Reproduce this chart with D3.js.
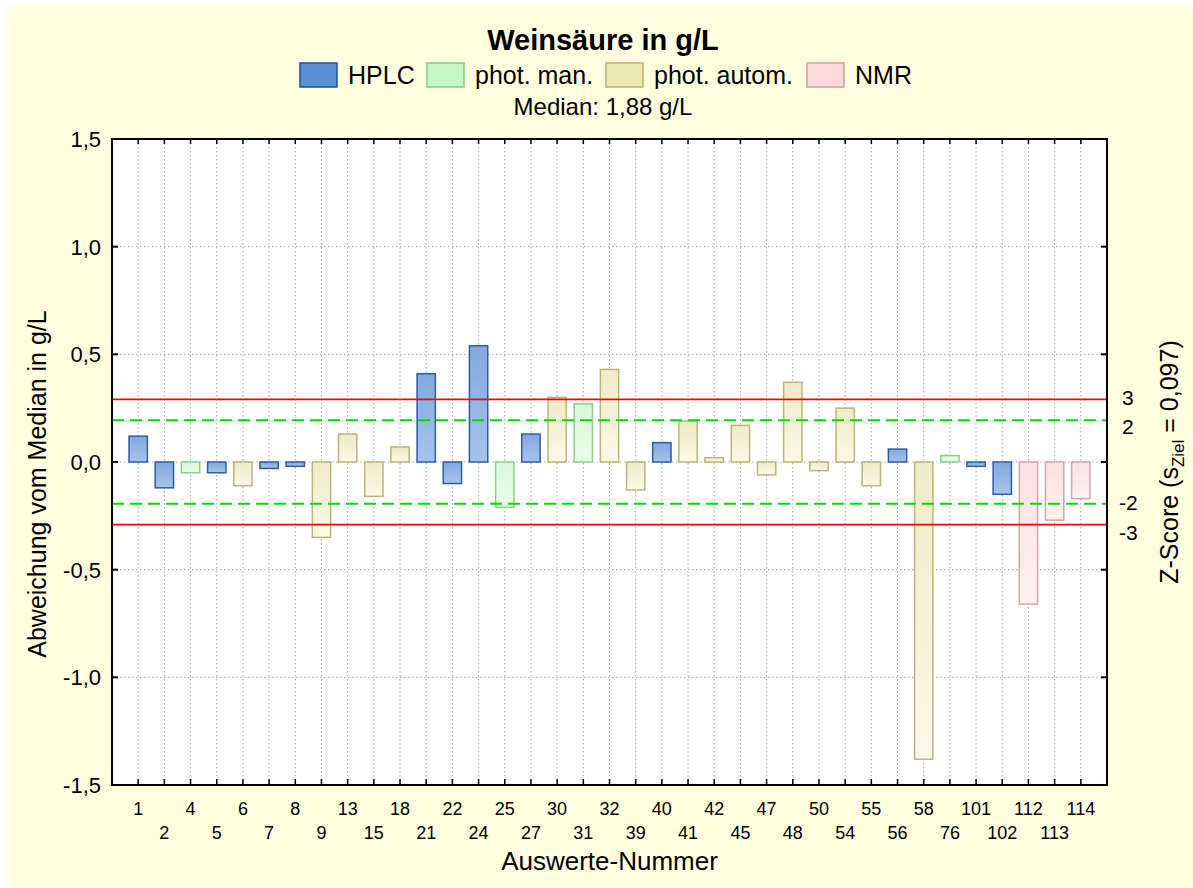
<!DOCTYPE html>
<html>
<head>
<meta charset="utf-8">
<script src="https://cdn.jsdelivr.net/npm/d3@7"></script>
<style>
  body { margin: 0; background: #fff; }
  svg text { font-family: Arial, "Liberation Sans", sans-serif; fill: #000; }
</style>
</head>
<body>
<div id="chart"></div>
<script>
// Auswerte-Nummern (x categories)
const labNumbers = ["1", "2", "4", "5", "6", "7", "8", "9", "13", "15", "18", "21", "22", "24", "25", "27",
    "30", "31", "32", "39", "40", "41", "42", "45", "47", "48", "50", "54", "55", "56", "58", "76",
    "101", "102", "112", "113", "114"];

// method of each lab
const labMethods = ["HPLC", "HPLC", "phot. man.", "HPLC", "phot. autom.", "HPLC", "HPLC", "phot. autom.",
    "phot. autom.", "phot. autom.", "phot. autom.", "HPLC", "HPLC", "HPLC", "phot. man.", "HPLC",
    "phot. autom.", "phot. man.", "phot. autom.", "phot. autom.", "HPLC", "phot. autom.", "phot. autom.", "phot. autom.",
    "phot. autom.", "phot. autom.", "phot. autom.", "phot. autom.", "phot. autom.", "HPLC", "phot. autom.", "phot. man.",
    "HPLC", "HPLC", "NMR", "NMR", "NMR"];

// deviation from median in g/L
const deviations = [0.12, -0.12, -0.05, -0.05, -0.11, -0.03, -0.02, -0.35, 0.13, -0.16, 0.07, 0.41, -0.10, 0.54, -0.21, 0.13,
    0.30, 0.27, 0.43, -0.13, 0.09, 0.19, 0.02, 0.17, -0.06, 0.37, -0.04, 0.25, -0.11, 0.06, -1.38, 0.03,
    -0.02, -0.15, -0.66, -0.27, -0.17];

const methodNames = ["HPLC", "phot. man.", "phot. autom.", "NMR"];
const yTicks = [-1.5, -1.0, -0.5, 0.0, 0.5, 1.0, 1.5];
const zScores = [3, 2, -2, -3];
const medianValue = 1.88;
const sZiel = 0.097;

// colours per method: legend swatch, bar gradient top/bottom, stroke
const methodStyle = {
    "HPLC":         { swatch: "#5b8fd6", swStroke: "#1f4f9c", top: "#82a8de", bottom: "#a8c3ea", stroke: "#2c5ea8" },
    "phot. man.":   { swatch: "#c6f7c8", swStroke: "#86c98a", top: "#d9f8d9", bottom: "#ebfcea", stroke: "#8ccf8c" },
    "phot. autom.": { swatch: "#ede7b2", swStroke: "#b9b06e", top: "#f0ebc6", bottom: "#faf8e8", stroke: "#bcb47a" },
    "NMR":          { swatch: "#ffd9da", swStroke: "#cfa0a0", top: "#fce1e1", bottom: "#fff1f1", stroke: "#d4a6a6" }
};

const width = 1193, height = 888;
const plot = { left: 112, right: 1107, top: 139, bottom: 785 };

const svg = d3.select("#chart").append("svg")
    .attr("width", width)
    .attr("height", height);

// background
svg.append("rect")
    .attr("x", 7).attr("y", 6)
    .attr("width", width - 7).attr("height", height - 6)
    .attr("fill", "#ffffe0");

const defs = svg.append("defs");
methodNames.forEach((m, i) => {
    const g = defs.append("linearGradient")
        .attr("id", "grad" + i)
        .attr("x1", 0).attr("y1", 0).attr("x2", 0).attr("y2", 1);
    g.append("stop").attr("offset", "0%").attr("stop-color", methodStyle[m].top);
    g.append("stop").attr("offset", "100%").attr("stop-color", methodStyle[m].bottom);
});

// plot area
svg.append("rect")
    .attr("x", plot.left).attr("y", plot.top)
    .attr("width", plot.right - plot.left).attr("height", plot.bottom - plot.top)
    .attr("fill", "#ffffff");

// scales
const x = d3.scalePoint()
    .domain(labNumbers)
    .range([plot.left, plot.right])
    .padding(1);

const y = d3.scaleLinear()
    .domain([-1.5, 1.5])
    .range([plot.bottom, plot.top]);

const barWidth = x.step() * 0.7;

// grid lines
svg.append("g")
    .selectAll("line")
    .data(labNumbers)
    .join("line")
    .attr("x1", d => x(d)).attr("x2", d => x(d))
    .attr("y1", plot.top).attr("y2", plot.bottom)
    .attr("stroke", "#a8a8a8")
    .attr("stroke-width", 1)
    .attr("stroke-dasharray", "1.5,2.5");

svg.append("g")
    .selectAll("line")
    .data(yTicks.slice(1, -1))
    .join("line")
    .attr("x1", plot.left).attr("x2", plot.right)
    .attr("y1", d => y(d)).attr("y2", d => y(d))
    .attr("stroke", "#a8a8a8")
    .attr("stroke-width", 1)
    .attr("stroke-dasharray", "1.5,2.5");

// bars
const barData = labNumbers.map((n, i) => ({ n, method: labMethods[i], value: deviations[i] }));

svg.append("g")
    .selectAll("rect")
    .data(barData)
    .join("rect")
    .attr("x", d => x(d.n) - barWidth / 2)
    .attr("y", d => y(Math.max(0, d.value)))
    .attr("width", barWidth)
    .attr("height", d => Math.abs(y(d.value) - y(0)))
    .attr("fill", d => `url(#grad${methodNames.indexOf(d.method)})`)
    .attr("stroke", d => methodStyle[d.method].stroke)
    .attr("stroke-width", 1.5);

// z-score limit lines
svg.append("g")
    .selectAll("line")
    .data(zScores)
    .join("line")
    .attr("x1", plot.left).attr("x2", plot.right)
    .attr("y1", d => y(d * sZiel)).attr("y2", d => y(d * sZiel))
    .attr("stroke", d => Math.abs(d) === 3 ? "#ff0000" : "#00dd00")
    .attr("stroke-width", d => Math.abs(d) === 3 ? 1.6 : 2)
    .attr("stroke-dasharray", d => Math.abs(d) === 3 ? null : "12,6");

// frame and inward ticks
const axisG = svg.append("g");
axisG.append("rect")
    .attr("x", plot.left).attr("y", plot.top)
    .attr("width", plot.right - plot.left).attr("height", plot.bottom - plot.top)
    .attr("fill", "none")
    .attr("stroke", "#000")
    .attr("stroke-width", 2);

axisG.selectAll(".ytick")
    .data(yTicks)
    .join("g")
    .each(function (d) {
        const g = d3.select(this);
        g.append("line").attr("x1", plot.left).attr("x2", plot.left + 6)
            .attr("y1", y(d)).attr("y2", y(d)).attr("stroke", "#000").attr("stroke-width", 2);
        g.append("line").attr("x1", plot.right - 6).attr("x2", plot.right)
            .attr("y1", y(d)).attr("y2", y(d)).attr("stroke", "#000").attr("stroke-width", 2);
    });

axisG.selectAll(".xtick")
    .data(labNumbers)
    .join("g")
    .each(function (d) {
        const g = d3.select(this);
        g.append("line").attr("x1", x(d)).attr("x2", x(d))
            .attr("y1", plot.bottom).attr("y2", plot.bottom - 6).attr("stroke", "#000").attr("stroke-width", 1.5);
        g.append("line").attr("x1", x(d)).attr("x2", x(d))
            .attr("y1", plot.top).attr("y2", plot.top + 5).attr("stroke", "#000").attr("stroke-width", 1.5);
    });

// y tick labels
const fmt = d => d.toFixed(1).replace(".", ",").replace("-0,0", "0,0");
svg.append("g")
    .selectAll("text")
    .data(yTicks)
    .join("text")
    .attr("x", plot.left - 11)
    .attr("y", d => y(d) + 8)
    .attr("text-anchor", "end")
    .style("font-size", "22px")
    .text(fmt);

// x tick labels, two staggered rows
svg.append("g")
    .selectAll("text")
    .data(labNumbers)
    .join("text")
    .attr("x", d => x(d))
    .attr("y", (d, i) => i % 2 === 0 ? 815 : 839)
    .attr("text-anchor", "middle")
    .style("font-size", "18px")
    .text(d => d);

// z-score labels on the right
const zOffset = { "3": 4, "2": 12, "-2": 4, "-3": 13 };
svg.append("g")
    .selectAll("text")
    .data(zScores)
    .join("text")
    .attr("x", d => d < 0 ? 1119 : 1122)
    .attr("y", d => y(d * sZiel) + zOffset[d] + 2)
    .style("font-size", "21px")
    .text(d => d);

// axis titles
svg.append("text")
    .attr("x", (plot.left + plot.right) / 2)
    .attr("y", 870)
    .attr("text-anchor", "middle")
    .style("font-size", "26px")
    .text("Auswerte-Nummer");

svg.append("text")
    .attr("transform", "translate(46, 484) rotate(-90)")
    .attr("text-anchor", "middle")
    .style("font-size", "25px")
    .text("Abweichung vom Median in g/L");

const zTitle = svg.append("text")
    .attr("transform", `translate(1178, ${(plot.top + plot.bottom) / 2}) rotate(-90)`)
    .attr("text-anchor", "middle")
    .style("font-size", "25px");
zTitle.append("tspan").text("Z-Score (s");
zTitle.append("tspan").attr("dy", 6).style("font-size", "17px").text("Ziel");
zTitle.append("tspan").attr("dy", -6).text(" = " + String(sZiel).replace(".", ",") + ")");

// title, legend, median
svg.append("text")
    .attr("x", 603)
    .attr("y", 50)
    .attr("text-anchor", "middle")
    .style("font-size", "29px")
    .style("font-weight", "bold")
    .text("Weinsäure in g/L");

const legendX = [300, 427, 606, 807];
const legend = svg.append("g")
    .selectAll("g")
    .data(methodNames)
    .join("g")
    .attr("transform", (d, i) => `translate(${legendX[i]}, 63)`);

legend.append("rect")
    .attr("width", 37).attr("height", 24)
    .attr("fill", d => methodStyle[d].swatch)
    .attr("stroke", d => methodStyle[d].swStroke)
    .attr("stroke-width", 1.5);

legend.append("text")
    .attr("x", 48)
    .attr("y", 21)
    .style("font-size", "25px")
    .text(d => d);

svg.append("text")
    .attr("x", 603)
    .attr("y", 115)
    .attr("text-anchor", "middle")
    .style("font-size", "24px")
    .text("Median: " + medianValue.toFixed(2).replace(".", ",") + " g/L");
</script>
</body>
</html>
